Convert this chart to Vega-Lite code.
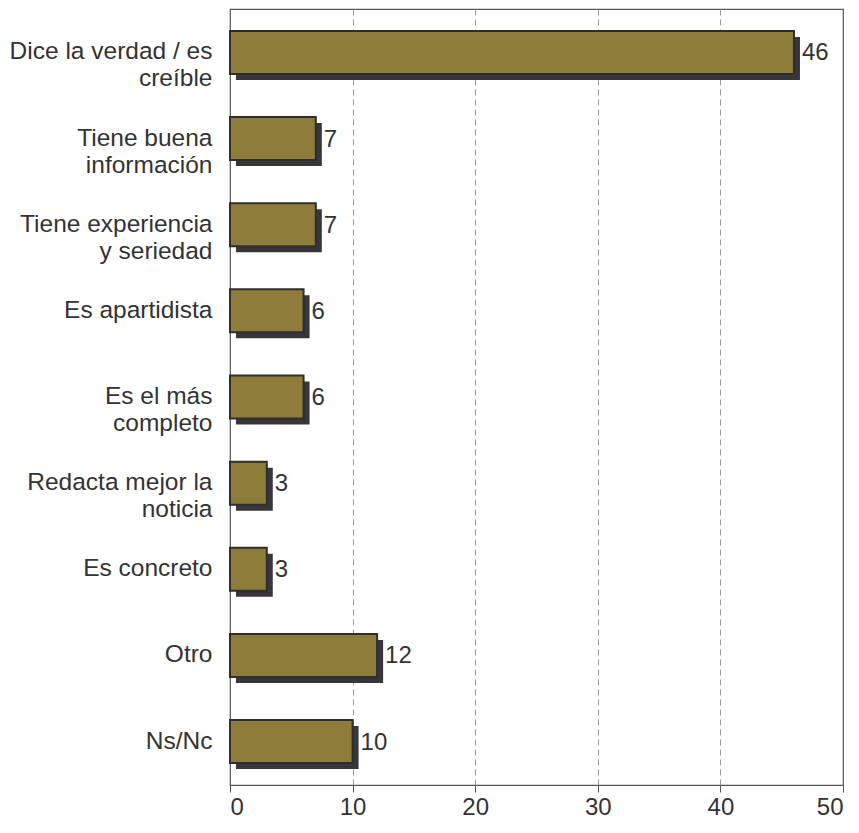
{
  "$schema": "https://vega.github.io/schema/vega-lite/v6.json",
  "width": 613,
  "height": 776,
  "autosize": {"type": "none"},
  "padding": {"left": 230, "top": 9, "right": 16, "bottom": 48},
  "background": "white",
  "config": {
    "font": "Liberation Sans",
    "view": {"stroke": "#555555", "strokeWidth": 1.2}
  },
  "data": {
    "values": [
      {"label": "Dice la verdad / es|creíble", "value": 46},
      {"label": "Tiene buena|información", "value": 7},
      {"label": "Tiene experiencia|y seriedad", "value": 7},
      {"label": "Es apartidista", "value": 6},
      {"label": "Es el más|completo", "value": 6},
      {"label": "Redacta mejor la|noticia", "value": 3},
      {"label": "Es concreto", "value": 3},
      {"label": "Otro", "value": 12},
      {"label": "Ns/Nc", "value": 10}
    ]
  },
  "encoding": {
    "y": {
      "field": "label",
      "type": "nominal",
      "sort": null,
      "scale": {"paddingInner": 0.49, "paddingOuter": 0.25},
      "axis": {
        "title": null,
        "domain": false,
        "ticks": false,
        "labelExpr": "split(datum.label, '|')",
        "labelFont": "Liberation Sans",
        "labelFontSize": 24.5,
        "labelColor": "#333333",
        "labelPadding": 18,
        "labelLineHeight": 27,
        "labelAlign": "right",
        "labelLimit": 300
      }
    },
    "x": {
      "field": "value",
      "type": "quantitative",
      "scale": {"domain": [0, 50], "nice": false},
      "axis": {
        "title": null,
        "values": [0, 10, 20, 30, 40, 50],
        "domain": false,
        "tickSize": 7,
        "tickColor": "#555555",
        "labelFont": "Liberation Sans",
        "labelFontSize": 24,
        "labelColor": "#333333",
        "labelPadding": 3,
        "grid": true,
        "gridDash": [6, 4],
        "gridColor": "#999999",
        "gridOpacity": {"condition": {"test": "datum.value == 0 || datum.value == 50", "value": 0}, "value": 1}
      }
    }
  },
  "layer": [
    {
      "mark": {"type": "bar", "color": "#38363b", "xOffset": 6, "yOffset": 6, "size": 43}
    },
    {
      "mark": {"type": "bar", "fill": "#8e7c3b", "stroke": "#2e2e2e", "strokeWidth": 2, "size": 43}
    },
    {
      "mark": {"type": "text", "align": "left", "baseline": "middle", "dx": 8, "dy": 1, "fontSize": 24, "color": "#333333"},
      "encoding": {"text": {"field": "value", "type": "quantitative"}}
    }
  ]
}
